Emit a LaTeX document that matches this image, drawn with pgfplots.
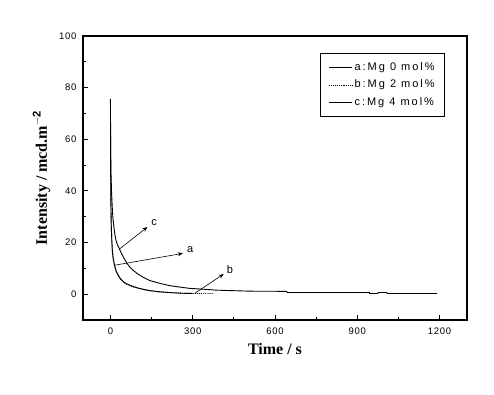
\documentclass[border=0pt]{standalone}
\usepackage{fontspec}
\setmainfont{Liberation Sans}
\newfontfamily\tnr{Liberation Serif}
\usepackage{pgfplots}
\pgfplotsset{compat=1.18}
\usetikzlibrary{arrows.meta}
\begin{document}
\begin{tikzpicture}[x=1pt,y=1pt]
\path[use as bounding box] (-83,-75) rectangle (411,320);
\begin{axis}[
  at={(0,0)}, anchor=south west,
  scale only axis, width=384pt, height=284pt,
  xmin=-100, xmax=1300, ymin=-10, ymax=100,
  xtick={0,300,600,900,1200}, ytick={0,20,40,60,80,100},
  minor x tick num=1, minor y tick num=1,
  tick pos=left, tick align=inside,
  major tick length=5pt, minor tick length=3pt,
  axis line style={line width=1.6pt},
  every tick/.style={line width=1pt, black},
  /pgf/number format/assume math mode=true,
  /pgf/number format/1000 sep={},
  tick label style={font=\fontsize{9.5}{10}\selectfont\addfontfeature{LetterSpace=8}},
  yticklabel style={xshift=-3pt},
  xticklabel style={yshift=-4pt},
  xlabel={\tnr\bfseries Time / s},
  ylabel={\tnr\bfseries Intensity / mcd.m$^{\mathbf{-2}}$},
  label style={font=\fontsize{16}{18}\selectfont},
  xlabel style={yshift=-2pt},
  ylabel style={yshift=2pt},
  legend style={at={(0.943,0.941)}, anchor=north east, draw=black, line width=1pt,
    font=\fontsize{11}{12}\selectfont\addfontfeature{LetterSpace=18},
    inner xsep=8pt, inner ysep=7pt, row sep=3pt,
    nodes={inner sep=2pt, text height=8pt, text depth=2.5pt}},
  legend cell align=left,
  legend image code/.code={\draw[#1, line width=0.7pt] (0pt,0pt) -- (23pt,0pt);},
]
\addplot[black, line width=0.9pt] coordinates {
(0.5,61) (1,45) (2,33) (3,27) (5,21) (7,17) (10,14) (15,11.2) (20,9.3) (25,8) (33,6.6) (40,5.6) (50,4.6) (60,4) (80,3.1) (100,2.4) (120,1.9) (143,1.4) (180,0.9) (220,0.6) (263,0.35) (300,0.3)};
\addlegendentry{a:Mg 0 mol\%}
\addplot[black, line width=0.9pt, densely dotted] coordinates {
(1,45) (1.5,38) (2,32) (3,26) (5,20) (7,16.5) (10,13.5) (15,10.8) (20,9) (25,7.7) (33,6.3) (40,5.4) (50,4.4) (60,3.8) (80,2.9) (100,2.3) (120,1.8) (143,1.3) (180,0.9) (220,0.6) (263,0.35) (300,0.27) (375,0.25)};
\addlegendentry{b:Mg 2 mol\%}
\addplot[black, line width=0.9pt] coordinates {
(0,75.6) (1,55) (2,47) (4,40) (6,35) (8,31) (10,28.5) (15,24) (20,21) (25,19.3) (33,17.5) (40,15.8) (50,13.8) (60,12) (70,10.6) (80,9.5) (100,7.8) (120,6.5) (143,5.3) (180,4.2) (216,3.3) (250,2.8) (289,2.25) (350,1.85) (387,1.55) (450,1.35) (509,1.16) (643,1.1) (644,0.65) (944,0.65) (945,0.27) (975,0.27) (976,0.65) (1008,0.65) (1009,0.27) (1191,0.27)};
\addlegendentry{c:Mg 4 mol\%}
\draw[-{Stealth[length=5pt,width=4pt]}, line width=0.6pt] (axis cs:33,17.5) -- (axis cs:135,26);
\node[anchor=south west, font=\fontsize{11}{12}\selectfont, inner sep=1pt] at (axis cs:145,26) {c};
\draw[-{Stealth[length=5pt,width=4pt]}, line width=0.6pt] (axis cs:15,11.2) -- (axis cs:264,15.8);
\node[anchor=south west, font=\fontsize{11}{12}\selectfont, inner sep=1pt] at (axis cs:275,15.8) {a};
\draw[-{Stealth[length=5pt,width=4pt]}, line width=0.6pt] (axis cs:307,0.3) -- (axis cs:413,7.8);
\node[anchor=south west, font=\fontsize{11}{12}\selectfont, inner sep=1pt] at (axis cs:420,7.5) {b};
\end{axis}
\end{tikzpicture}
\end{document}
